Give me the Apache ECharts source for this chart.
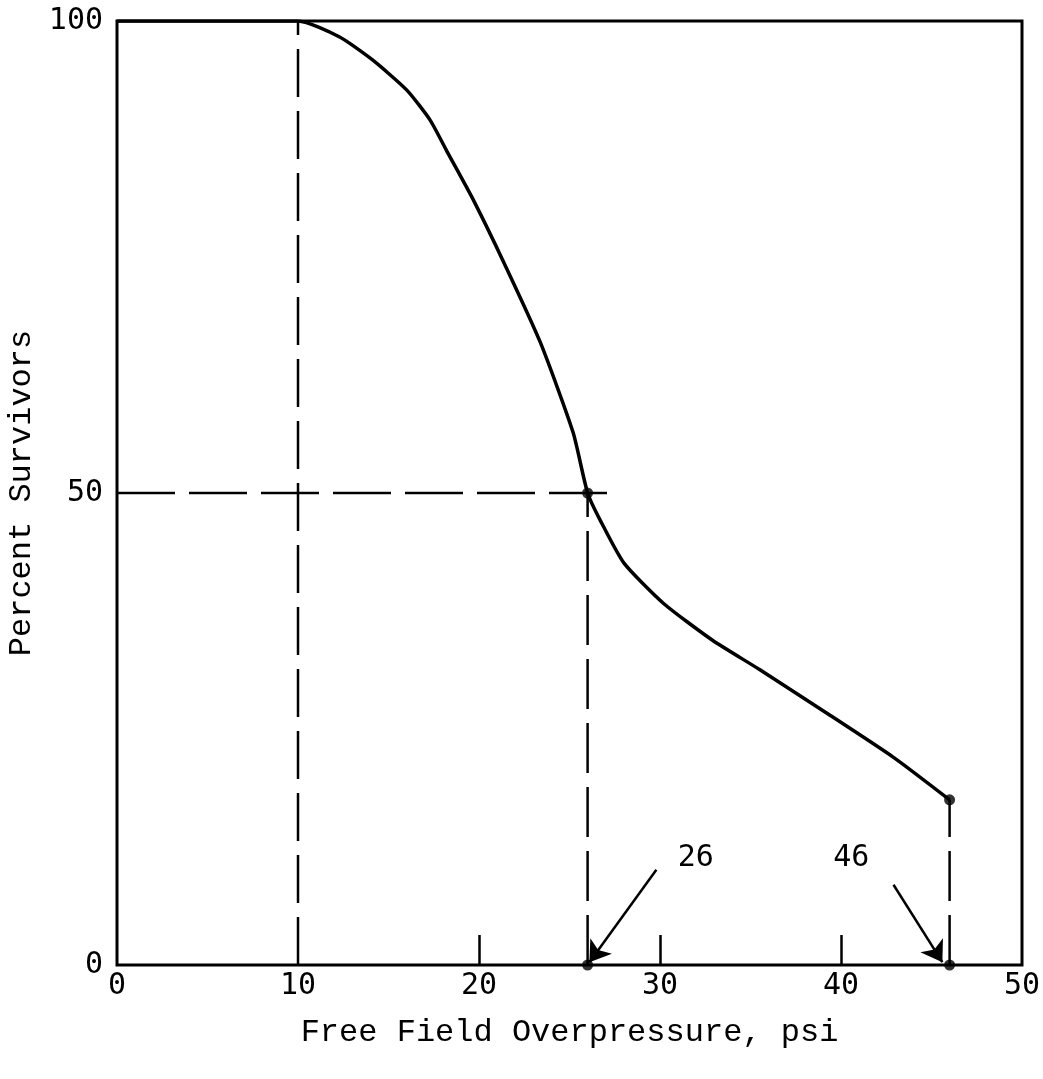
<!DOCTYPE html>
<html>
<head>
<meta charset="utf-8">
<script src="https://cdn.jsdelivr.net/npm/echarts@6/dist/echarts.min.js"></script>
<style>html,body{margin:0;padding:0;background:#fff;}#c{width:1043px;height:1079px;}</style>
</head>
<body>
<div id="c"></div>
<script>
// Survival curve: [overpressure psi, percent survivors]
const curvePoints = [
  [0, 100], [10, 100], [12.3, 98.3], [14.1, 95.9], [16.0, 92.7], [17.3, 89.5],
  [18.2, 86.3], [19.7, 81.0], [21.5, 73.9], [23.4, 65.9], [25.2, 56.4],
  [26.0, 50.0], [26.7, 47.1], [28.0, 42.6], [30.2, 38.3], [32.9, 34.4],
  [35.5, 31.3], [39.2, 26.7], [42.9, 22.0], [46.0, 17.5]
];
const guide10 = [[10, 0], [10, 100]];
const guide50 = [[0, 50], [27.2, 50]];
const guide26 = [[26, 0], [26, 50]];
const guide46 = [[46, 0], [46, 17.5]];
const dotPoints = [[26, 50], [26, 0], [46, 17.5], [46, 0]];
const annotations = [
  {value: [32.0, 11.3], text: '26'},
  {value: [40.6, 11.3], text: '46'}
];
const arrows = [
  [[29.8, 10.1], [26.1, 0.3]],
  [[42.9, 8.5], [45.6, 0.3]]
];
const xTicks = [0, 10, 20, 30, 40, 50];
const yTicks = [0, 50, 100];
const xTitle = 'Free Field Overpressure, psi';
const yTitle = 'Percent Survivors';

const mono = 'Liberation Mono';
const num = 'DejaVu Sans Mono';
const chart = echarts.init(document.getElementById('c'));
const dashStyle = (pat) => ({color: '#000', width: 2.5, type: pat});
function guide(data, pat) {
  return {type: 'line', data: data, symbol: 'none', silent: true,
    lineStyle: dashStyle(pat), z: 2};
}
chart.setOption({
  backgroundColor: '#fff',
  animation: false,
  grid: {left: 117, right: 21, top: 21, bottom: 114, show: true,
    containLabel: false, outerBoundsMode: 'none',
    borderColor: '#000', borderWidth: 3, backgroundColor: 'transparent'},
  xAxis: {
    type: 'value', min: 0, max: 50, interval: 10,
    name: xTitle, nameLocation: 'middle', nameGap: 52,
    nameTextStyle: {fontFamily: mono, fontSize: 32, color: '#000'},
    axisLine: {show: false},
    axisTick: {show: true, inside: true, length: 30, customValues: [20, 30, 40],
      lineStyle: {color: '#000', width: 2.5}},
    axisLabel: {fontFamily: num, fontSize: 30, color: '#000', margin: 6,
      customValues: xTicks},
    splitLine: {show: false}
  },
  yAxis: {
    type: 'value', min: 0, max: 100, interval: 50,
    name: yTitle, nameLocation: 'middle', nameGap: 78, nameRotate: 90,
    nameTextStyle: {fontFamily: mono, fontSize: 32, color: '#000'},
    axisLine: {show: false},
    axisTick: {show: false},
    axisLabel: {fontFamily: num, fontSize: 30, color: '#000', margin: 14,
      customValues: yTicks},
    splitLine: {show: false}
  },
  series: [
    guide(guide10, [48, 14]),
    guide(guide50, [58, 14]),
    guide(guide26, [50, 14]),
    guide(guide46, [50, 14]),
    {type: 'line', data: curvePoints, smooth: 0.2, symbol: 'none',
      lineStyle: {color: '#000', width: 3.5}, z: 3},
    {type: 'scatter', data: dotPoints, symbolSize: 11,
      itemStyle: {color: '#000'}, z: 4},
    {type: 'scatter', symbolSize: 1, z: 5,
      itemStyle: {color: 'rgba(0,0,0,0)'},
      data: annotations.map(a => ({value: a.value, name: a.text})),
      label: {show: true, formatter: p => p.name, position: [0, 0],
        align: 'center', verticalAlign: 'middle',
        fontFamily: num, fontSize: 30, color: '#000', opacity: 1},
      markLine: {
        silent: true, symbol: ['none', 'arrow'], symbolSize: 20,
        label: {show: false},
        lineStyle: {color: '#000', width: 2.5, type: 'solid', curveness: 0.2, opacity: 1},
        data: arrows.map(a => [{coord: a[0]}, {coord: a[1]}])
      }}
  ]
});
</script>
</body>
</html>
